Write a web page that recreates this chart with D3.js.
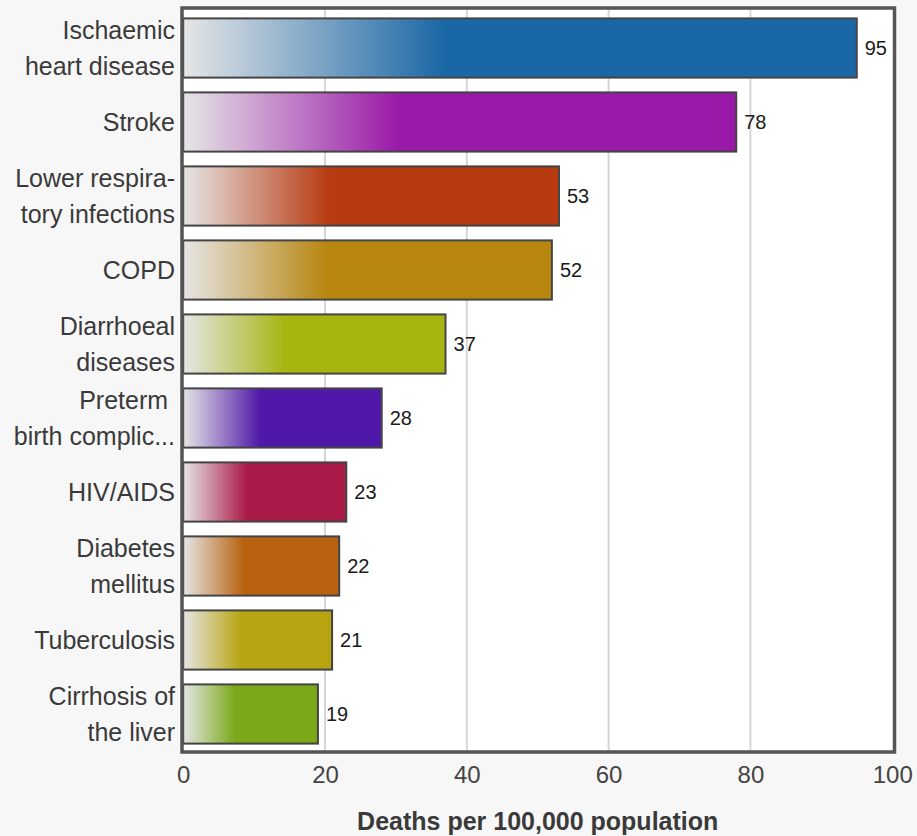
<!DOCTYPE html>
<html>
<head>
<meta charset="utf-8">
<script src="https://cdn.jsdelivr.net/npm/d3@7"></script>
<style>
  html, body { margin: 0; padding: 0; background: #f7f7f7; }
  svg { display: block; }
  text { font-family: "Liberation Sans", Arial, sans-serif; }
</style>
</head>
<body>
<div id="chart"></div>
<script>
// Leading causes of death, deaths per 100,000 population
const categories = [
  "Ischaemic heart disease", "Stroke", "Lower respiratory infections", "COPD",
  "Diarrhoeal diseases", "Preterm birth complications", "HIV/AIDS",
  "Diabetes mellitus", "Tuberculosis", "Cirrhosis of the liver"
];
const labelLines = [
  ["Ischaemic", "heart disease"], ["Stroke"], ["Lower respira-", "tory infections"], ["COPD"],
  ["Diarrhoeal", "diseases"], ["Preterm ", "birth complic..."], ["HIV/AIDS"],
  ["Diabetes", "mellitus"], ["Tuberculosis"], ["Cirrhosis of", "the liver"]
];
const values = [95, 78, 53, 52, 37, 28, 23, 22, 21, 19];
const colors = [
  "#1a67a6", "#9a19a8", "#b83a10", "#b8860f", "#a6b510",
  "#4f18a8", "#aa1a48", "#b86210", "#b8a410", "#7aa818"
];
const xTicks = [0, 20, 40, 60, 80, 100];
const xTitle = "Deaths per 100,000 population";

const W = 917, H = 836;
const svg = d3.select("#chart").append("svg")
  .attr("width", W).attr("height", H);

const x = d3.scaleLinear().domain([0, 100]).range([183.2, 892.2]);
const y = d3.scaleBand().domain(categories).range([11, 751])
  .paddingInner(0.2).paddingOuter(0.1);

const frame = { x0: 182, x1: 894.5, y0: 8, y1: 752 };

// Plot background
svg.append("rect")
  .attr("x", frame.x0).attr("y", frame.y0)
  .attr("width", frame.x1 - frame.x0).attr("height", frame.y1 - frame.y0)
  .attr("fill", "#ffffff");

// Vertical grid lines
svg.append("g").selectAll("line")
  .data(xTicks.filter(t => t > 0 && t < 100))
  .join("line")
  .attr("x1", d => x(d)).attr("x2", d => x(d))
  .attr("y1", frame.y0).attr("y2", frame.y1)
  .attr("stroke", "#d6d6d6").attr("stroke-width", 2);

// Per-bar gradients: pale grey fading into the full series colour
const defs = svg.append("defs");
colors.forEach((c, i) => {
  const g = defs.append("linearGradient")
    .attr("id", "grad" + i)
    .attr("x1", "0").attr("x2", "1").attr("y1", "0").attr("y2", "0");
  g.append("stop").attr("offset", 0).attr("stop-color", "#e6e6e6");
  g.append("stop").attr("offset", 0.39).attr("stop-color", c);
  g.append("stop").attr("offset", 1).attr("stop-color", c);
});

// Bars
svg.append("g").selectAll("rect")
  .data(values)
  .join("rect")
  .attr("x", x(0))
  .attr("y", (d, i) => y(categories[i]))
  .attr("width", d => x(d) - x(0))
  .attr("height", y.bandwidth())
  .attr("fill", (d, i) => `url(#grad${i})`)
  .attr("stroke", "#444444")
  .attr("stroke-width", 2);

// Value labels
svg.append("g").selectAll("text")
  .data(values)
  .join("text")
  .attr("x", d => x(d) + 8)
  .attr("y", (d, i) => y(categories[i]) + y.bandwidth() / 2)
  .attr("dy", "0.35em")
  .attr("font-size", 20)
  .attr("fill", "#1a1a1a")
  .text(d => d);

// Category labels (wrapped)
const lineGap = 36.5;
const catG = svg.append("g");
labelLines.forEach((lines, i) => {
  const cy = y(categories[i]) + y.bandwidth() / 2;
  const t = catG.append("text")
    .attr("x", 175)
    .attr("text-anchor", "end")
    .attr("font-size", 25)
    .attr("fill", "#3a3a3a")
    .attr("xml:space", "preserve")
    .style("white-space", "pre");
  lines.forEach((ln, j) => {
    const off = (j - (lines.length - 1) / 2) * lineGap;
    t.append("tspan")
      .attr("x", 175)
      .attr("y", cy + off)
      .attr("dy", "0.36em")
      .text(ln);
  });
});

// X axis tick labels
const axis = d3.axisBottom(x).tickValues(xTicks).tickSize(0).tickPadding(0);
const axG = svg.append("g")
  .attr("transform", `translate(0, ${frame.y1})`)
  .call(axis);
axG.select(".domain").remove();
axG.selectAll("text")
  .attr("font-family", "Liberation Sans, Arial, sans-serif")
  .attr("font-size", 24)
  .attr("fill", "#444444")
  .attr("dy", null)
  .attr("y", 31);

// Plot frame
svg.append("rect")
  .attr("x", frame.x0).attr("y", frame.y0)
  .attr("width", frame.x1 - frame.x0).attr("height", frame.y1 - frame.y0)
  .attr("fill", "none")
  .attr("stroke", "#555555")
  .attr("stroke-width", 3.5);

// Axis title
svg.append("text")
  .attr("x", (x(0) + x(100)) / 2)
  .attr("y", 830)
  .attr("text-anchor", "middle")
  .attr("font-size", 25)
  .attr("font-weight", "bold")
  .attr("fill", "#3a3a3a")
  .text(xTitle);
</script>
</body>
</html>
